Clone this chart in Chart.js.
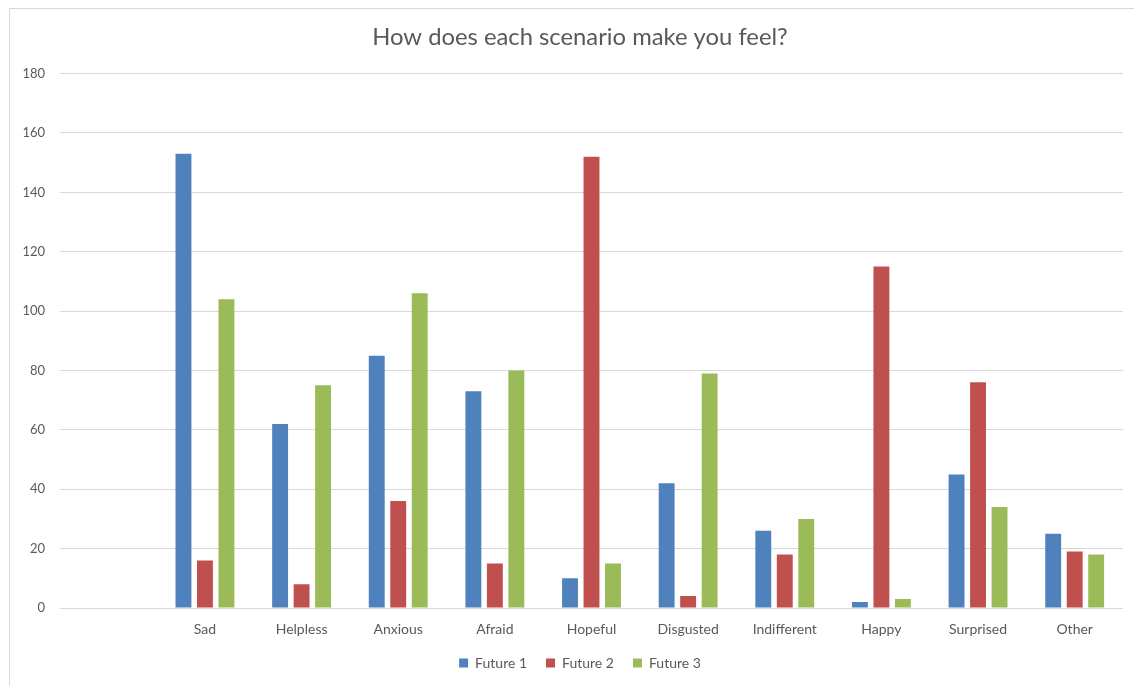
<!DOCTYPE html>
<html>
<head>
<meta charset="utf-8">
<script src="https://cdn.jsdelivr.net/npm/chart.js@4/dist/chart.umd.min.js"></script>
<style>
  html, body { margin: 0; padding: 0; background: #ffffff; overflow: hidden; }
  #frame {
    position: absolute; left: 9px; top: 8px; width: 1140px; height: 700px;
    border: 1px solid #d9d9d9; box-sizing: border-box;
  }
  #wrap { position: absolute; left: 0; top: 0; width: 1134px; height: 686px; }
</style>
</head>
<body>
<div id="frame"></div>
<div id="wrap"><canvas id="chart" width="1134" height="686"></canvas></div>
<script>
// Survey answers per feeling; the first slot is an empty category row.
const categories = ['', 'Sad', 'Helpless', 'Anxious', 'Afraid', 'Hopeful', 'Disgusted', 'Indifferent', 'Happy', 'Surprised', 'Other'];
const future1 = [null, 153, 62, 85, 73, 10, 42, 26, 2, 45, 25];
const future2 = [null, 16, 8, 36, 15, 152, 4, 18, 115, 76, 19];
const future3 = [null, 104, 75, 106, 80, 15, 79, 30, 3, 34, 18];
const yTicks = [0, 20, 40, 60, 80, 100, 120, 140, 160, 180];

const FONT = 'Lato, "Liberation Sans", sans-serif';
const TEXT = '#595959';

// Title and legend are centred on the whole frame rather than the plot,
// so their boxes start a little to the right of the y-axis labels.
const centreOnFrame = {
  id: 'centreOnFrame',
  afterLayout(chart) {
    chart.titleBlock.left += 37;
    chart.legend.left += 37;
  }
};

new Chart(document.getElementById('chart'), {
  type: 'bar',
  data: {
    labels: categories,
    datasets: [
      { label: 'Future 1', data: future1, backgroundColor: '#4F81BD' },
      { label: 'Future 2', data: future2, backgroundColor: '#C0504D' },
      { label: 'Future 3', data: future3, backgroundColor: '#9BBB59' }
    ]
  },
  plugins: [centreOnFrame],
  options: {
    responsive: false,
    animation: false,
    events: [],
    layout: { padding: { left: 0, right: 11, top: 0, bottom: 6 } },
    datasets: { bar: { categoryPercentage: 0.667, barPercentage: 0.74 } },
    plugins: {
      title: {
        display: true,
        text: 'How does each scenario make you feel?',
        color: TEXT,
        font: { family: FONT, size: 23.8, weight: 'normal' },
        padding: { top: 23, bottom: 22 }
      },
      legend: {
        position: 'bottom',
        labels: {
          color: TEXT,
          font: { family: FONT, size: 14 },
          boxWidth: 9,
          boxHeight: 9,
          padding: 19
        }
      },
      tooltip: { enabled: false }
    },
    scales: {
      x: {
        afterFit: (scale) => { scale.height = 29; },
        grid: { display: false, drawTicks: false },
        border: { display: false },
        ticks: { color: TEXT, font: { family: FONT, size: 14 }, padding: 13, maxRotation: 0, autoSkip: false }
      },
      y: {
        min: 0,
        max: 180,
        afterBuildTicks: (scale) => { scale.ticks = yTicks.map(v => ({ value: v })); },
        afterFit: (scale) => { scale.width = 60; },
        grid: { color: '#d9d9d9', lineWidth: 1, drawTicks: false },
        border: { display: false },
        ticks: { color: TEXT, font: { family: FONT, size: 13 }, padding: 15 }
      }
    }
  }
});
</script>
</body>
</html>
